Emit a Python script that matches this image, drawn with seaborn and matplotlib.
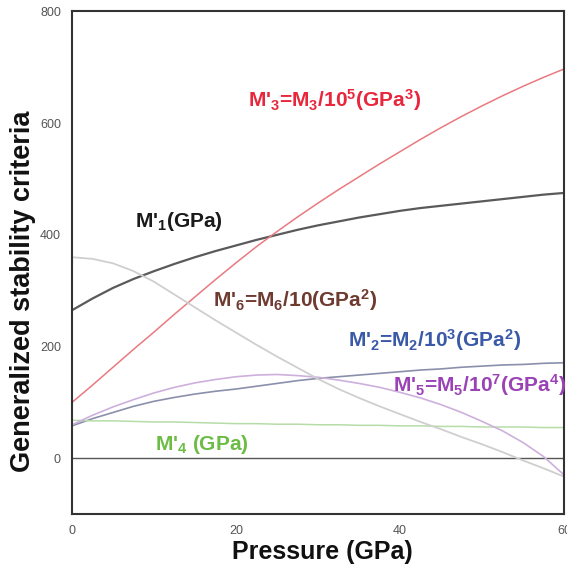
import numpy as np
import pandas as pd
import seaborn as sns
import matplotlib.pyplot as plt
from matplotlib.ticker import MultipleLocator

# Pressure grid (GPa) and curves
pressure = [0, 2.5, 5, 7.5, 10, 12.5, 15, 17.5, 20, 22.5, 25, 27.5, 30,
            32.5, 35, 37.5, 40, 42.5, 45, 47.5, 50, 52.5, 55, 57.5, 60]
m1 = [265, 286, 305, 321, 335, 348, 360, 371, 381, 391, 400, 409, 417,
      424, 431, 437, 443, 448, 452, 456, 460, 464, 468, 472, 475]
m2 = [58, 71, 82, 93, 102, 109, 115, 120, 124, 129, 134, 139, 143,
      146, 149, 152, 155, 158, 160, 163, 165, 167, 168, 170, 171]
m3 = [100, 131, 163, 195, 226, 258, 289, 320, 350, 379, 406, 432, 457,
      481, 504, 527, 549, 571, 592, 612, 631, 649, 666, 682, 697]
m4 = [68, 67, 67, 66, 65, 65, 64, 63, 62, 62, 61, 61, 60,
      60, 59, 59, 58, 58, 57, 57, 56, 56, 56, 55, 55]
m5 = [60, 77, 92, 105, 117, 127, 135, 141, 146, 149, 150, 148, 145,
      140, 134, 127, 118, 108, 96, 82, 66, 49, 28, 3, -30]
m6 = [360, 357, 349, 335, 316, 293, 270, 247, 225, 203, 182, 162, 142,
      124, 108, 93, 79, 65, 52, 38, 25, 11, -4, -18, -33]

series = {'M1': m1, 'M2': m2, 'M3': m3, 'M4': m4, 'M5': m5, 'M6': m6}
df = pd.DataFrame({'P': pressure, **series})
long_df = df.melt(id_vars='P', var_name='curve', value_name='val')

line_colors = {'M1': '#5a5a5a', 'M2': '#8a90ac', 'M3': '#e87a80', 'M4': '#b6dca8',
               'M5': '#cdb0dc', 'M6': '#cfcfcf'}
line_widths = {'M1': 1.6, 'M2': 1.2, 'M3': 1.1, 'M4': 1.1, 'M5': 1.2, 'M6': 1.3}

sns.set_style('white')
plt.rcParams['font.family'] = ['Liberation Sans', 'DejaVu Sans']
plt.rcParams['mathtext.default'] = 'regular'

fig = plt.figure(figsize=(5.67, 5.70), dpi=100)
ax = fig.add_axes([0.127, 0.098, 0.868, 0.882])

ax.axhline(0, color='#555555', lw=1.0, zorder=1)

for name in series:
    sub = long_df[long_df['curve'] == name]
    sns.lineplot(data=sub, x='P', y='val', ax=ax, color=line_colors[name],
                 lw=line_widths[name], zorder=2)

ax.set_xlim(0, 60)
ax.set_ylim(-100, 800)
ax.xaxis.set_major_locator(MultipleLocator(20))
ax.xaxis.set_minor_locator(MultipleLocator(10))
ax.yaxis.set_major_locator(MultipleLocator(200))
ax.yaxis.set_minor_locator(MultipleLocator(100))
ax.tick_params(which='both', direction='in', color='#333333', labelcolor='#555555',
               labelsize=9, width=1.2, pad=8)
ax.tick_params(which='major', length=9)
ax.tick_params(which='minor', length=5)
ax.tick_params(axis='x', pad=8)

for s in ax.spines.values():
    s.set_linewidth(1.5)
    s.set_color('#333333')

ax.set_xlabel('Pressure (GPa)', fontsize=18, fontweight='bold', color='#111111')
ax.set_ylabel('Generalized stability criteria', fontsize=19.5, fontweight='bold',
              color='#111111')
ax.xaxis.set_label_coords(0.508, -0.052)
ax.yaxis.set_label_coords(-0.073, 0.444)

# curve labels
labels = [
    (21.5, 642, "M'$_3$=M$_3$/10$^5$(GPa$^3$)", '#e8263c'),
    (7.7, 423, "M'$_1$(GPa)", '#1a1a1a'),
    (17.2, 284, "M'$_6$=M$_6$/10(GPa$^2$)", '#6e3b30'),
    (33.6, 212, "M'$_2$=M$_2$/10$^3$(GPa$^2$)", '#3a5aa8'),
    (39.1, 131, "M'$_5$=M$_5$/10$^7$(GPa$^4$)", '#9a42b6'),
    (10.1, 24, "M'$_4$ (GPa)", '#6cbc46'),
]
for x, y, txt, c in labels:
    ax.text(x, y, txt, color=c, fontsize=15, fontweight='bold', ha='left', va='center',
            zorder=3, clip_on=False)

fig.savefig('out.png', dpi=100)
